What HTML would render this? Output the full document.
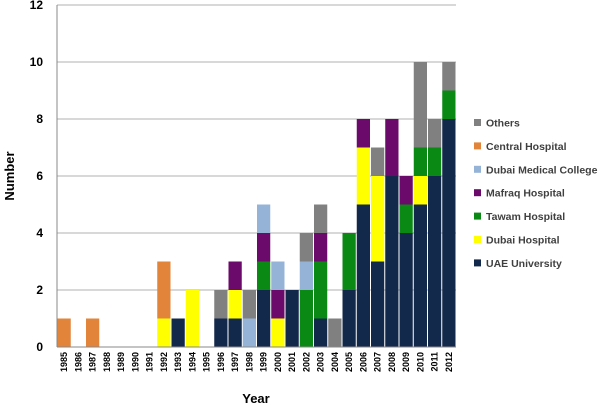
<!DOCTYPE html>
<html><head><meta charset="utf-8"><style>
body{margin:0;background:#fff;font-family:"Liberation Sans",Arial,sans-serif}
svg text{font-family:"Liberation Sans",Arial,sans-serif;font-weight:bold}
</style></head><body>
<svg id="chart" width="600" height="411" xmlns="http://www.w3.org/2000/svg"></svg>
<script>
const years=[1985,1986,1987,1988,1989,1990,1991,1992,1993,1994,1995,1996,1997,1998,1999,2000,2001,2002,2003,2004,2005,2006,2007,2008,2009,2010,2011,2012];
const uae    =[0,0,0,0,0,0,0,0,1,0,0,1,1,0,2,0,2,0,1,0,2,5,3,6,4,5,6,8];
const dubaiH =[0,0,0,0,0,0,0,1,0,2,0,0,1,0,0,1,0,0,0,0,0,2,3,0,0,1,0,0];
const tawam  =[0,0,0,0,0,0,0,0,0,0,0,0,0,0,1,0,0,2,2,0,2,0,0,0,1,1,1,1];
const mafraq =[0,0,0,0,0,0,0,0,0,0,0,0,1,0,1,1,0,0,1,0,0,1,0,2,1,0,0,0];
const dmc    =[0,0,0,0,0,0,0,0,0,0,0,0,0,1,1,1,0,1,0,0,0,0,0,0,0,0,0,0];
const central=[1,0,1,0,0,0,0,2,0,0,0,0,0,0,0,0,0,0,0,0,0,0,0,0,0,0,0,0];
const others =[0,0,0,0,0,0,0,0,0,0,0,1,0,1,0,0,0,1,1,1,0,0,1,0,0,3,1,1];
const yTicks=[0,2,4,6,8,10,12];
const seriesNames=["UAE University","Dubai Hospital","Tawam Hospital","Mafraq Hospital","Dubai Medical College","Central Hospital","Others"];
const seriesData=[uae,dubaiH,tawam,mafraq,dmc,central,others];
const colors=["#13294b","#ffff00","#0a8a14","#6b0a6b","#95b3d7","#e2843a","#808080"];

const svg=document.getElementById('chart');
const NS="http://www.w3.org/2000/svg";
const x0=57,x1=456,y0=347,y1=5;
const bw=(x1-x0)/years.length;
const Y=v=>y0-(v/12)*(y0-y1);
const X=i=>x0+i*bw;
function mk(t,a){const e=document.createElementNS(NS,t);for(const k in a)e.setAttribute(k,a[k]);svg.appendChild(e);return e;}

yTicks.forEach(t=>{
  const g=mk('line',{x1:x0,x2:x1,y1:Y(t),y2:Y(t),stroke:'#b0b0b0','stroke-width':1});
  
  
  const l=mk('text',{x:43,y:Y(t)+4,'text-anchor':'end','font-size':12,fill:'#000'});
  l.textContent=t;
  
  
});

years.forEach((yr,i)=>{
  let acc=0;
  seriesData.forEach((s,k)=>{
    const v=s[i];
    if(v>0){
      const r=mk('rect',{x:X(i)+0.5,y:Y(acc+v),width:bw-1,height:Y(acc)-Y(acc+v),fill:colors[k]});
      
      
    }
    acc+=v;
  });
  const cx=X(i)+bw/2+3;
  const t=mk('text',{x:cx,y:352,'text-anchor':'end','font-size':9,fill:'#000',transform:`rotate(-90 ${cx} 352)`});
  t.textContent=yr;
  
  
});

const ax=mk('line',{x1:x0,x2:x0,y1:y1,y2:y0,stroke:'#888','stroke-width':1});


const bx=mk('line',{x1:x0,x2:x1,y1:y0,y2:y0,stroke:'#888','stroke-width':1});



const yt=mk('text',{x:14,y:176,'text-anchor':'middle','font-size':13,fill:'#000',transform:'rotate(-90 14 176)'});
yt.textContent='Number';


const xt=mk('text',{x:256,y:403,'text-anchor':'middle','font-size':13,fill:'#000'});
xt.textContent='Year';



for(let j=0;j<7;j++){
  const k=6-j;
  const ly=123+j*23.4;
  const sq=mk('rect',{x:474,y:ly-4,width:7,height:7,fill:colors[k]});
  
  
  const lt=mk('text',{x:486,y:ly+3.5,'font-size':10.5,fill:'#404040'});
  lt.textContent=seriesNames[k];
  
  
}
</script>
</body></html>
